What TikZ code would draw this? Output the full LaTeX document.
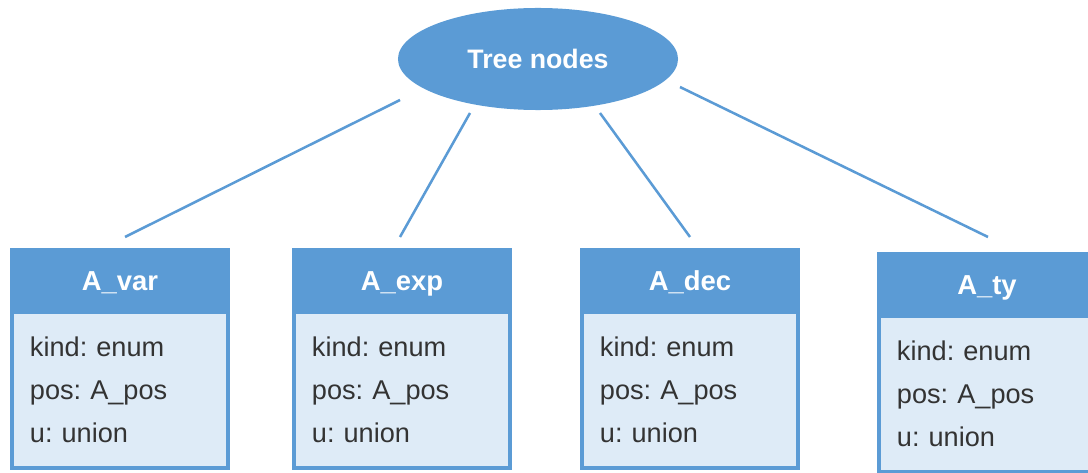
\documentclass[tikz,border=0pt]{standalone}
\usepackage{fontspec}
\setmainfont{Liberation Sans}
\usetikzlibrary{positioning,shapes.geometric,calc}

\definecolor{nodeblue}{HTML}{5B9BD5}
\definecolor{fieldblue}{HTML}{DEEBF7}
\definecolor{fieldtext}{HTML}{333333}

\tikzset{
	root/.style={ellipse, fill=nodeblue, text=white, inner sep=0pt,
		minimum width=7cm, minimum height=2.55cm,
		font=\fontsize{19}{23}\selectfont\bfseries},
	head/.style={rectangle, draw=nodeblue, fill=nodeblue, line width=2.8pt,
		outer sep=0pt, inner sep=0pt, minimum width=5.4cm, minimum height=1.55cm,
		text height=14pt, text depth=0pt,
		text=white, font=\fontsize{19.5}{23}\selectfont\bfseries},
	fields/.style={rectangle, draw=nodeblue, fill=fieldblue, line width=2.8pt,
		outer sep=0pt, inner xsep=0.45cm, inner ysep=0pt, text width=4.5cm,
		minimum height=3.9cm, align=left, text=fieldtext,
		font=\fontsize{19.3}{30.5}\selectfont\frenchspacing},
	link/.style={draw=nodeblue, line width=1.8pt}
}

\begin{document}
\begin{tikzpicture}[x=0.025cm,y=-0.025cm]
	\useasboundingbox (0,0) rectangle (1088,473);

	% Root
	\node[root] (tree) at (538,59) {Tree nodes};

	% Structs
	\foreach \n/\x/\y in {var/120/281, exp/402/281, dec/690/281, ty/987/285} {
		\node[head] (h\n) at (\x,\y) {A\_\n};
		\node[fields, below=0pt of h\n] (b\n) {kind: enum\\pos: A\_pos\\u: union};
	}

	% Links
	\coordinate (t1) at (400,100);
	\coordinate (t2) at (470,113);
	\coordinate (t3) at (600,113);
	\coordinate (t4) at (680,87);
	\draw[link] (t1) -- ($(hvar.north)+(5,-13)$);
	\draw[link] (t2) -- ($(hexp.north)+(-2,-13)$);
	\draw[link] (t3) -- ($(hdec.north)+(0,-13)$);
	\draw[link] (t4) -- ($(hty.north)+(1,-17)$);
\end{tikzpicture}
\end{document}
